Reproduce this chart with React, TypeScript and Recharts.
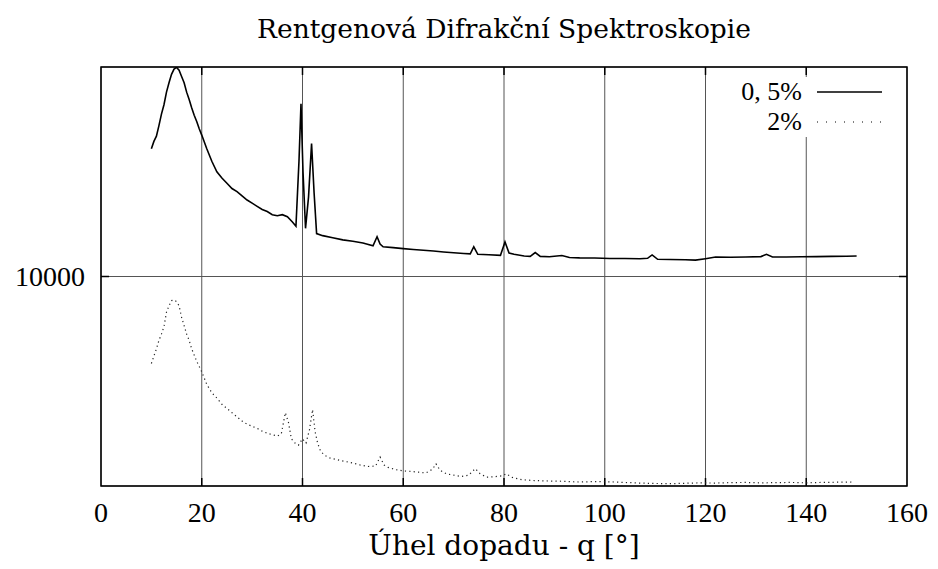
import { LineChart, Line, XAxis, YAxis, CartesianGrid, ReferenceArea, ReferenceLine } from 'recharts'

// 0,5 % sample
const angles05 = [
  10, 10.5, 11, 11.5, 12, 12.5, 13, 13.5, 14, 14.5, 15, 15.5, 16, 16.5, 17, 17.5, 18, 18.5, 19, 19.5,
  20, 21, 22, 23, 24, 25, 26, 27, 28, 29, 30, 31, 32, 33, 34, 35, 36, 37, 38, 38.7,
  39.3, 39.7, 40.1, 40.6, 41.2, 41.8, 42.3, 42.8, 44, 46, 48, 50, 52, 54, 54.8, 55.4, 56, 58, 60, 62,
  64, 66, 68, 70, 72, 73.3, 74, 74.8, 77, 79.3, 80.2, 81, 82, 84, 85.2, 86.2, 87.2, 89, 91.5, 93,
  95, 98, 101, 104, 107, 108.5, 109.4, 110.5, 113, 116, 118, 120, 122, 125, 128, 131, 132.1, 133.3, 136, 139,
  142, 145, 148, 150,
]
const counts05 = [
  16100, 16450, 16700, 17200, 17750, 18200, 18800, 19250, 19650, 19900, 19980, 19850, 19550, 19250, 18800, 18450, 18050, 17700, 17400, 17050,
  16750, 16100, 15500, 15000, 14700, 14450, 14200, 14050, 13850, 13650, 13500, 13350, 13200, 13100, 12950, 12900, 12950, 12850, 12600, 12400,
  15500, 18250, 15000, 12300, 13800, 16350, 14000, 12050, 11950, 11850, 11750, 11680, 11600, 11470, 11900, 11550, 11420, 11380, 11330, 11290,
  11250, 11220, 11170, 11130, 11100, 11080, 11420, 11060, 11040, 11010, 11650, 11120, 11060, 10980, 10960, 11140, 10960, 10940, 11000, 10910,
  10890, 10880, 10860, 10860, 10850, 10870, 11030, 10820, 10815, 10800, 10780, 10850, 10930, 10920, 10930, 10950, 11060, 10930, 10930, 10940,
  10950, 10960, 10970, 10980,
]

// 2 % sample
const angles2 = [
  10, 10.5, 11, 11.5, 12, 12.5, 13, 13.5, 14, 14.5, 15, 15.5, 16, 16.5, 17, 17.5, 18, 18.5, 19, 19.5,
  20, 21, 22, 23, 24, 25, 26, 27, 28, 29, 30, 31, 32, 33, 34, 35, 35.8, 36.6, 37.2, 37.8,
  38.5, 39.2, 40, 40.7, 41.4, 42, 42.5, 43, 43.6, 44.5, 45.5, 47, 48.5, 50, 51.5, 53, 54.5, 55.4, 56.2, 57,
  58.5, 60, 61.5, 63, 64.5, 65.8, 66.5, 67.3, 68.6, 70, 71.5, 73, 74.3, 75.2, 76.5, 78, 79.5, 80.5, 81.5, 83.5,
  86, 88.5, 91, 93, 95, 98, 101, 104, 107, 110, 113, 116, 119, 122, 125, 128, 131, 134, 137, 140,
  143, 146, 149,
]
const counts2 = [
  5850, 6200, 6550, 6950, 7250, 7600, 8300, 8600, 8850, 8880, 8800, 8600, 8050, 7650, 7250, 6950, 6550, 6250, 5950, 5700,
  5450, 4850, 4450, 4200, 3900, 3700, 3500, 3300, 3100, 2950, 2850, 2750, 2620, 2520, 2450, 2380, 2500, 3500, 3050, 2250,
  2050, 1950, 2250, 2050, 2700, 3650, 2600, 2050, 1650, 1450, 1330, 1250, 1170, 1100, 1000, 930, 950, 1380, 1000, 890,
  780, 720, 700, 660, 620, 800, 1060, 750, 580, 520, 450, 520, 830, 600, 420, 440, 480, 580, 420, 300,
  260, 240, 230, 210, 190, 210, 200, 170, 140, 120, 110, 130, 150, 140, 160, 170, 150, 160, 170, 150,
  170, 180, 190,
]

const xTicks = [0, 20, 40, 60, 80, 100, 120, 140, 160]
const yTicks = [10000]

const title = 'Rentgenová Difrakční Spektroskopie'
const xLabel = 'Úhel dopadu - q [°]'
const seriesNames = ['0, 5%', '2%']

const font = '"Liberation Serif", "DejaVu Serif", serif'
const wideFont = '"DejaVu Serif", "Liberation Serif", serif'

const data05 = angles05.map((x, i) => ({ x, y: counts05[i] }))
const data2 = angles2.map((x, i) => ({ x, y: counts2[i] }))

const legendItems = [
  { name: seriesNames[0], dash: undefined as string | undefined, width: 1.3 },
  { name: seriesNames[1], dash: '1 8', width: 1 },
]

function LegendBox() {
  return (
    <div
      style={{
        position: 'absolute',
        left: 716,
        top: 77,
        width: 174,
        background: '#fff',
        fontFamily: font,
        fontSize: 26,
        color: '#000',
      }}
    >
      {legendItems.map((p) => (
        <div key={p.name} style={{ display: 'flex', alignItems: 'center', height: 30 }}>
          <span style={{ width: 86, textAlign: 'right', lineHeight: '30px', whiteSpace: 'nowrap' }}>{p.name}</span>
          <svg width={88} height={30}>
            <line x1={15} x2={80} y1={15} y2={15} stroke="#000" strokeWidth={p.width} strokeDasharray={p.dash} />
          </svg>
        </div>
      ))}
    </div>
  )
}

export default function App() {
  return (
    <div style={{ position: 'absolute', left: 0, top: 0, width: 938, height: 569, background: '#fff' }}>
      <div
        style={{
          position: 'absolute',
          left: 101,
          width: 806,
          top: 16,
          textAlign: 'center',
          fontFamily: wideFont,
          fontSize: 26.5,
          lineHeight: '26.5px',
          color: '#000',
          whiteSpace: 'nowrap',
        }}
      >
        {title}
      </div>
      <LineChart width={938} height={569} margin={{ top: 67, right: 31, bottom: 33, left: 0 }}>
        <CartesianGrid stroke="#555" strokeWidth={1} />
        <XAxis
          type="number"
          dataKey="x"
          domain={[0, 160]}
          ticks={xTicks}
          height={50}
          tickSize={0}
          tickMargin={16}
          axisLine={false}
          tick={{ fontFamily: font, fontSize: 28, fill: '#000' }}
          allowDataOverflow
        />
        <YAxis
          type="number"
          dataKey="y"
          domain={[0, 20000]}
          ticks={yTicks}
          width={101}
          tickSize={0}
          tickMargin={16}
          axisLine={false}
          tick={{ fontFamily: font, fontSize: 28, fill: '#000' }}
          allowDataOverflow
        />
        {xTicks.slice(1, -1).map((t) => (
          <ReferenceLine key={'b' + t} segment={[{ x: t, y: 0 }, { x: t, y: 380 }]} stroke="#000" strokeWidth={1.5} />
        ))}
        {xTicks.slice(1, -1).map((t) => (
          <ReferenceLine key={'t' + t} segment={[{ x: t, y: 19620 }, { x: t, y: 20000 }]} stroke="#000" strokeWidth={1.5} />
        ))}
        {yTicks.map((t) => (
          <ReferenceLine key={'l' + t} segment={[{ x: 0, y: t }, { x: 1.6, y: t }]} stroke="#000" strokeWidth={1.5} />
        ))}
        {yTicks.map((t) => (
          <ReferenceLine key={'r' + t} segment={[{ x: 158.4, y: t }, { x: 160, y: t }]} stroke="#000" strokeWidth={1.5} />
        ))}
        <Line
          data={data05}
          dataKey="y"
          name={seriesNames[0]}
          stroke="#000"
          strokeWidth={1.6}
          dot={false}
          type="linear"
          isAnimationActive={false}
        />
        <Line
          data={data2}
          dataKey="y"
          name={seriesNames[1]}
          stroke="#222"
          strokeWidth={1.2}
          strokeDasharray="1.2 3.2"
          dot={false}
          type="linear"
          isAnimationActive={false}
        />
        <ReferenceArea x1={0} x2={160} y1={0} y2={20000} fill="none" fillOpacity={0} stroke="#000" strokeWidth={1.5} />
      </LineChart>
      <LegendBox />
      <div
        style={{
          position: 'absolute',
          left: 101,
          width: 806,
          top: 532,
          textAlign: 'center',
          fontFamily: wideFont,
          fontSize: 28,
          lineHeight: '28px',
          color: '#000',
          whiteSpace: 'nowrap',
        }}
      >
        {xLabel}
      </div>
    </div>
  )
}
